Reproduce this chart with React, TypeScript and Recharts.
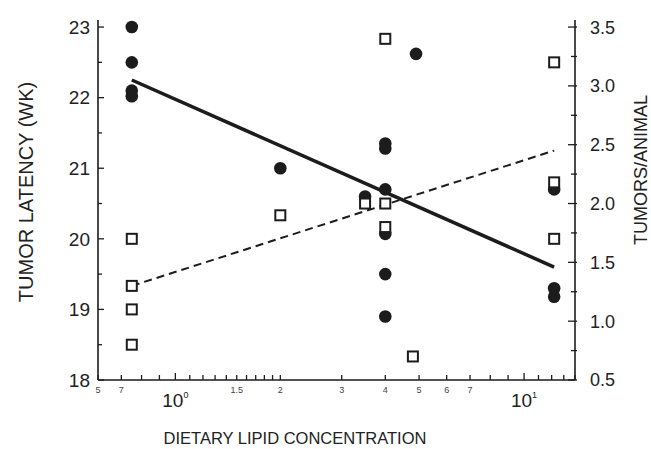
import { ComposedChart, Label, Scatter, XAxis, YAxis } from "recharts";

// dietary lipid concentration (log axis)
const xTicks = [0.6, 0.7, 0.8, 0.9, 1, 1.1, 1.2, 1.3, 1.4, 1.5, 1.6, 1.7, 1.8, 1.9, 2, 3, 4, 5, 6, 7, 8, 9, 10, 11, 12, 13, 14];
const xLabelValues = [0.6, 0.7, 1, 1.5, 2, 3, 4, 5, 6, 7, 10];
const xLabelTexts = ["5", "7", "10^0", "1.5", "2", "3", "4", "5", "6", "7", "10^1"];

const latencyTicks = [18, 18.5, 19, 19.5, 20, 20.5, 21, 21.5, 22, 22.5, 23];
const tumorTicks = [0.5, 0.75, 1, 1.25, 1.5, 1.75, 2, 2.25, 2.5, 2.75, 3, 3.25, 3.5];

// tumor latency (WK), filled circles
const latencyX = [0.75, 0.75, 0.75, 0.75, 2, 3.5, 4, 4, 4, 4, 4, 4, 4.9, 12.2, 12.2, 12.2];
const latencyY = [23.0, 22.5, 22.1, 22.02, 21.0, 20.6, 21.35, 21.28, 20.7, 20.07, 19.5, 18.9, 22.62, 20.7, 19.3, 19.18];

// tumors/animal, open squares
const tumorX = [0.75, 0.75, 0.75, 0.75, 2, 3.5, 4, 4, 4, 4.8, 12.2, 12.2, 12.2];
const tumorY = [1.7, 1.3, 1.1, 0.8, 1.9, 2.0, 3.4, 2.0, 1.8, 0.7, 3.2, 2.18, 1.7];

// regression lines
const latencyFitX = [0.75, 12.2];
const latencyFitY = [22.25, 19.6];
const tumorFitX = [0.75, 12.2];
const tumorFitY = [1.3, 2.45];

const INK = "#1c1c1c";
const FONT = "'Liberation Sans', Arial, sans-serif";

const zip = (xs: number[], ys: number[]) => xs.map((x, i) => ({ x, y: ys[i] }));

function XTick(props: any) {
  const { x, y, payload } = props;
  const v = payload.value;
  const idx = xLabelValues.indexOf(v);
  const text = idx >= 0 ? xLabelTexts[idx] : null;
  const isDecade = text !== null && text.includes("^");
  const len = isDecade ? 7 : 5;
  return (
    <g>
      <line x1={x} y1={y} x2={x} y2={y - len} stroke={INK} strokeWidth={1.3} />
      {text !== null && !isDecade && (
        <text x={x} y={y + 13} textAnchor="middle" fontSize={9} fill="#444" fontFamily={FONT}>
          {text}
        </text>
      )}
      {isDecade && (
        <text x={x} y={y + 27} textAnchor="middle" fontSize={19} fill="#222" fontFamily={FONT}>
          {text!.split("^")[0]}
          <tspan fontSize={9} dy={-9}>
            {text!.split("^")[1]}
          </tspan>
        </text>
      )}
    </g>
  );
}

function LeftTick(props: any) {
  const { x, y, payload } = props;
  const v = payload.value;
  const major = Number.isInteger(v);
  return (
    <g>
      <line x1={x} y1={y} x2={x + (major ? 6 : 4)} y2={y} stroke={INK} strokeWidth={1.3} />
      {major && (
        <text x={x - 8} y={y} dy="0.36em" textAnchor="end" fontSize={19} fill="#222" fontFamily={FONT}>
          {v}
        </text>
      )}
    </g>
  );
}

function RightTick(props: any) {
  const { x, y, payload } = props;
  const v = payload.value;
  const major = Math.abs(v * 2 - Math.round(v * 2)) < 1e-6;
  return (
    <g>
      <line x1={x - (major ? 7 : 4)} y1={y} x2={x + 2} y2={y} stroke={INK} strokeWidth={1.3} />
      {major && (
        <text x={x + 15} y={y} dy="0.36em" textAnchor="start" fontSize={18} fill="#222" fontFamily={FONT}>
          {v.toFixed(1)}
        </text>
      )}
    </g>
  );
}

const Dot = (p: any) => <circle cx={p.cx} cy={p.cy} r={6.3} fill={INK} />;
const Box = (p: any) => (
  <rect x={p.cx - 5} y={p.cy - 5} width={10} height={10} fill="#fff" stroke={INK} strokeWidth={2} />
);
const NoShape = () => <g />;

export default function App() {
  return (
    <div style={{ position: "absolute", left: 0, top: 0, width: 651, height: 449, background: "#fff" }}>
      <ComposedChart width={651} height={449} margin={{ top: 20, right: 0, bottom: 0, left: 0 }}>
        <XAxis
          type="number"
          dataKey="x"
          scale="log"
          domain={[0.6, 14]}
          allowDataOverflow
          ticks={xTicks}
          interval={0}
          height={69}
          tickSize={0}
          tickMargin={0}
          tickLine={false}
          axisLine={{ stroke: INK, strokeWidth: 1.6 }}
          tick={(p: any) => <XTick {...p} />}
        >
          <Label
            content={() => (
              <text x={295} y={444} textAnchor="middle" fontSize={16.5} fill="#222" fontFamily={FONT}>
                DIETARY LIPID CONCENTRATION
              </text>
            )}
          />
        </XAxis>
        <YAxis
          yAxisId="left"
          type="number"
          dataKey="y"
          domain={[18, 23.1]}
          allowDataOverflow
          ticks={latencyTicks}
          interval={0}
          width={98}
          tickSize={0}
          tickMargin={0}
          tickLine={false}
          axisLine={{ stroke: INK, strokeWidth: 1.6 }}
          tick={(p: any) => <LeftTick {...p} />}
        >
          <Label
            content={() => (
              <text
                x={33}
                y={192}
                transform="rotate(-90, 33, 192)"
                textAnchor="middle"
                fontSize={20}
                fill="#222"
                fontFamily={FONT}
              >
                TUMOR LATENCY (WK)
              </text>
            )}
          />
        </YAxis>
        <YAxis
          yAxisId="right"
          orientation="right"
          type="number"
          dataKey="y"
          domain={[0.5, 3.56]}
          allowDataOverflow
          ticks={tumorTicks}
          interval={0}
          width={76}
          tickSize={0}
          tickMargin={0}
          tickLine={false}
          axisLine={{ stroke: INK, strokeWidth: 1.6 }}
          tick={(p: any) => <RightTick {...p} />}
        >
          <Label
            content={() => (
              <text
                x={647}
                y={170}
                transform="rotate(-90, 647, 170)"
                textAnchor="middle"
                fontSize={18}
                fill="#222"
                fontFamily={FONT}
              >
                TUMORS/ANIMAL
              </text>
            )}
          />
        </YAxis>

        <Scatter
          yAxisId="left"
          data={zip(latencyFitX, latencyFitY)}
          shape={NoShape}
          line={{ stroke: INK, strokeWidth: 3.5 }}
          isAnimationActive={false}
        />
        <Scatter
          yAxisId="right"
          data={zip(tumorFitX, tumorFitY)}
          shape={NoShape}
          line={{ stroke: INK, strokeWidth: 2, strokeDasharray: "8 5" }}
          isAnimationActive={false}
        />
        <Scatter yAxisId="left" data={zip(latencyX, latencyY)} shape={Dot} isAnimationActive={false} />
        <Scatter yAxisId="right" data={zip(tumorX, tumorY)} shape={Box} isAnimationActive={false} />
      </ComposedChart>
    </div>
  );
}
